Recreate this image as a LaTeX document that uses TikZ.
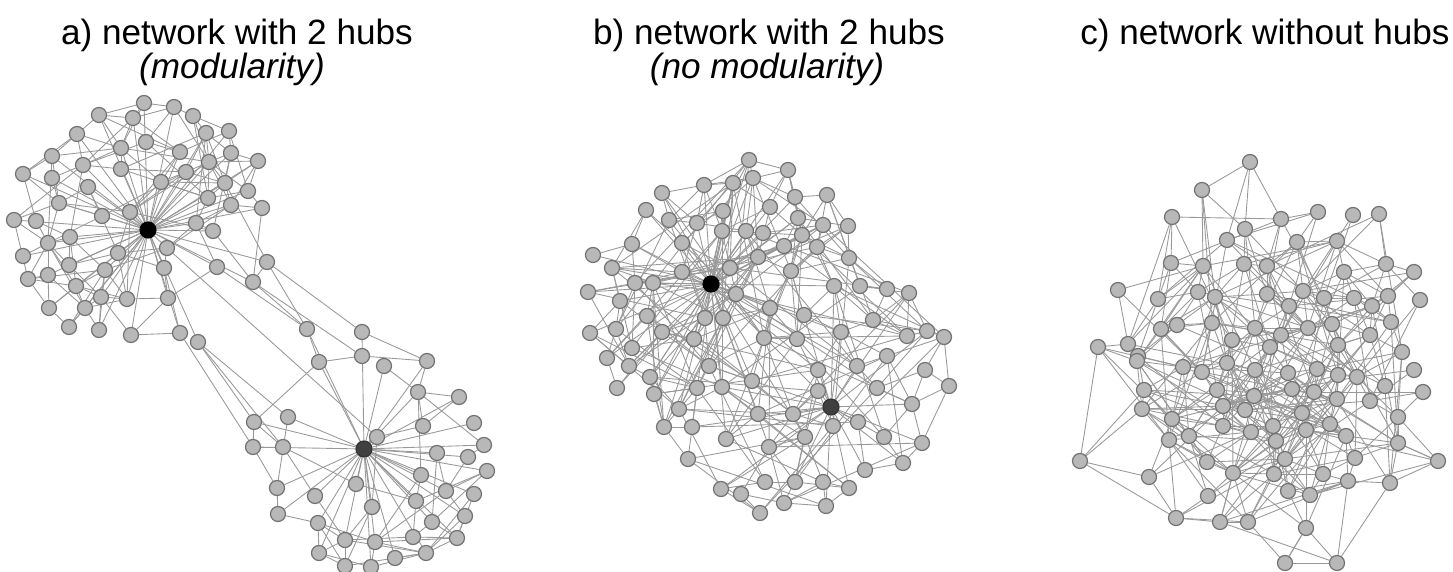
\documentclass[tikz,border=0pt]{standalone}
\usepackage{fontspec}
\setmainfont{Liberation Sans}
\usetikzlibrary{backgrounds}

\newcommand\keep[5]{%
  \node[#1] (#2#3) at (#4,#5) {};
  \expandafter\xdef\csname #2x#3\endcsname{#4}%
  \expandafter\xdef\csname #2y#3\endcsname{#5}}

\newcommand\wire[6]{%
  \pgfmathtruncatemacro\wlast{#2-1}%
  \foreach \i in {1,...,\wlast}{%
    \pgfmathtruncatemacro\wnext{\i+1}%
    \foreach \j in {\wnext,...,#2}{%
      \edef\dsq{\the\numexpr
        (\csname #1x\i\endcsname-\csname #1x\j\endcsname)*(\csname #1x\i\endcsname-\csname #1x\j\endcsname)
        +(\csname #1y\i\endcsname-\csname #1y\j\endcsname)*(\csname #1y\i\endcsname-\csname #1y\j\endcsname)\relax}%
      \ifnum\dsq<\numexpr#5*#5\relax
        \pgfmathrandominteger{\rnum}{0}{99}%
        \ifnum\dsq<\numexpr#3*#3\relax\def\chance{#4}\else\def\chance{#6}\fi
        \ifnum\rnum<\chance\relax\draw[link] (#1\i) -- (#1\j);\fi
      \fi}}}

\newcommand\spokes[5]{%
  \foreach \j in {1,...,#3}{%
    \edef\dsq{\the\numexpr
      (\csname #1x#2\endcsname-\csname #1x\j\endcsname)*(\csname #1x#2\endcsname-\csname #1x\j\endcsname)
      +(\csname #1y#2\endcsname-\csname #1y\j\endcsname)*(\csname #1y#2\endcsname-\csname #1y\j\endcsname)\relax}%
    \ifnum\dsq<\numexpr#4*#4\relax
      \pgfmathrandominteger{\rnum}{0}{99}%
      \ifnum\rnum<#5\relax\draw[link] (#1#2) -- (#1\j);\fi
    \fi}}

\begin{document}
\begin{tikzpicture}[
    x=0.1mm, y=-0.1mm,
    dot/.style={circle, draw=black!55, fill=black!28, line width=0.35pt, minimum size=1.5mm, inner sep=0pt},
    hub/.style={dot, fill=black, draw=black, minimum size=1.6mm},
    hubtwo/.style={hub, fill=black!75, draw=black!80},
    link/.style={draw=black!40, line width=0.25pt},
    title/.style={font=\fontsize{10}{12}\selectfont, inner sep=0pt, anchor=base},
  ]
  \useasboundingbox (0,0) rectangle (1453,572);
  \pgfmathsetseed{7}

  % a) two modules
  \keep{hub}{ma}{h}{148}{230}
  \foreach \x/\y [count=\n] in {144/103,174/107,193/116,99/115,133/118,77/134,146/142,121/148,206/133,229/131,
      52/156,180/152,231/153,209/162,258/161,83/165,121/169,186/172,23/174,52/178,
      161/182,225/183,88/187,248/191,208/198,59/203,231/205,262/208,130/212,14/220,
      36/221,102/216,196/223,213/231,70/237,48/243,167/248,118/253,23/256,69/265,
      164/268,217/267,105/270,28/279,48/275,76/286,101/297,127/299,168/298,49/308,
      85/308,69/327,99/330,131/335,180/333,198/342,267/262,253/282}
    {\keep{dot}{ma}{\n}{\x}{\y}\xdef\nma{\n}}
  \keep{hubtwo}{mb}{h}{364}{449}
  \foreach \x/\y [count=\n] in {307/329,362/332,319/362,362/356,384/366,427/361,418/392,459/397,254/422,288/417,
      423/426,474/423,377/437,253/447,283/447,437/453,484/445,468/457,487/471,421/475,
      356/484,277/488,315/496,446/491,474/494,416/501,372/507,278/514,465/516,318/523,
      432/522,413/537,457/538,345/540,375/542,319/553,426/553,395/558,345/566,371/567}
    {\keep{dot}{mb}{\n}{\x}{\y}\xdef\nmb{\n}}

  % b) two hubs, one module
  \keep{hub}{nm}{h}{711}{284}
  \keep{hubtwo}{nm}{g}{831}{407}
  \foreach \x/\y [count=\n] in {749/160,788/170,753/178,704/185,733/183,662/193,795/197,827/195,770/207,646/210,
      723/211,669/220,697/223,798/218,823/225,848/226,722/231,746/231,763/233,802/235,
      632/244,682/243,784/246,817/247,593/255,758/257,849/258,612/268,730/268,682/272,
      791/271,588/292,635/283,653/283,736/294,834/286,860/286,887/289,909/293,620/301,
      647/316,705/318,723/318,770/308,804/315,873/320,590/333,616/329,662/332,694/339,
      632/348,764/338,797/339,841/332,907/336,927/331,944/337,607/358,887/356,629/366,
      709/366,650/377,752/381,818/370,857/366,925/370,617/388,697/388,722/387,654/394,
      818/391,877/388,949/386,679/409,758/414,912/404,793/414,664/427,692/427,858/422,
      833/426,726/439,805/437,884/437,922/443,769/447,688/459,903/463,865/470,765/482,
      795/482,823/482,849/488,721/489,741/494,784/503,826/506,760/513}
    {\keep{dot}{nm}{\n}{\x}{\y}\xdef\nnm{\n}}

  % c) no hubs
  \foreach \x/\y [count=\n] in {1250/162,1202/190,1172/217,1245/229,1227/240,1171/263,1203/266,1244/264,1267/266,1118/290,
      1158/299,1198/292,1215/297,1267/294,1161/329,1177/325,1212/323,1255/328,1232/340,1098/347,
      1128/344,1138/356,1270/347,1281/219,1318/212,1353/215,1379/214,1297/242,1337/241,1344/272,
      1386/264,1414/272,1303/291,1324/298,1354/298,1388/296,1420/300,1289/306,1372/306,1281/335,
      1308/328,1332/324,1370/335,1391/322,1338/345,1402/352,1255/370,1288/373,1317/369,1338/375,
      1357/377,1414/370,1137/361,1183/367,1202/372,1227/363,1144/390,1217/390,1254/396,1142/409,
      1223/406,1245/410,1172/419,1223/426,1251/432,1169/440,1189/436,1080/461,1207/462,1233/473,
      1149/477,1208/496,1176/518,1220/522,1248/522,1385/386,1423/392,1292/389,1314/392,1337/399,
      1370/401,1302/413,1398/417,1273/426,1306/430,1330/424,1346/436,1276/441,1398/443,1438/461,
      1285/459,1355/458,1274/474,1323/474,1348/481,1390/483,1288/491,1310/495,1306/528,1285/563,
      1337/563}
    {\keep{dot}{nh}{\n}{\x}{\y}\xdef\nnh{\n}}

  \begin{scope}[on background layer]
    \spokes{ma}{h}{\nma}{160}{85}
    \wire{ma}{\nma}{50}{55}{95}{14}
    \spokes{mb}{h}{\nmb}{160}{90}
    \wire{mb}{\nmb}{50}{50}{90}{14}
    \foreach \p/\q in {57/1,57/2,58/1,58/4,42/1,37/13,56/9,56/10,55/14,56/15}
      \draw[link] (ma\p) -- (mb\q);
    \foreach \p/\q in {6/2,6/7,6/4}
      \draw[link] (mb\p) -- (mb\q);
    \spokes{nm}{h}{\nnm}{180}{65}
    \spokes{nm}{g}{\nnm}{150}{60}
    \wire{nm}{\nnm}{55}{45}{180}{7}
    \foreach \p/\q in {66/76,66/73,73/76,66/57,73/85,66/72}
      \draw[link] (nm\p) -- (nm\q);
    \wire{nh}{\nnh}{55}{55}{140}{12}
    \foreach \p/\q in {1/2,1/24,1/5,68/20,68/57,68/71,68/73,100/99,100/75,101/99,101/96,90/89,90/83,90/96}
      \draw[link] (nh\p) -- (nh\q);
  \end{scope}

  \node[title] (ta) at (237,45) {a) network with 2 hubs};
  \node[title] (sa) at (232,79) {\itshape (modularity)};
  \node[title] (tb) at (769,45) {b) network with 2 hubs};
  \node[title] (sb) at (767,79) {\itshape (no modularity)};
  \node[title] (tc) at (1265,45) {c) network without hubs};
\end{tikzpicture}
\end{document}
